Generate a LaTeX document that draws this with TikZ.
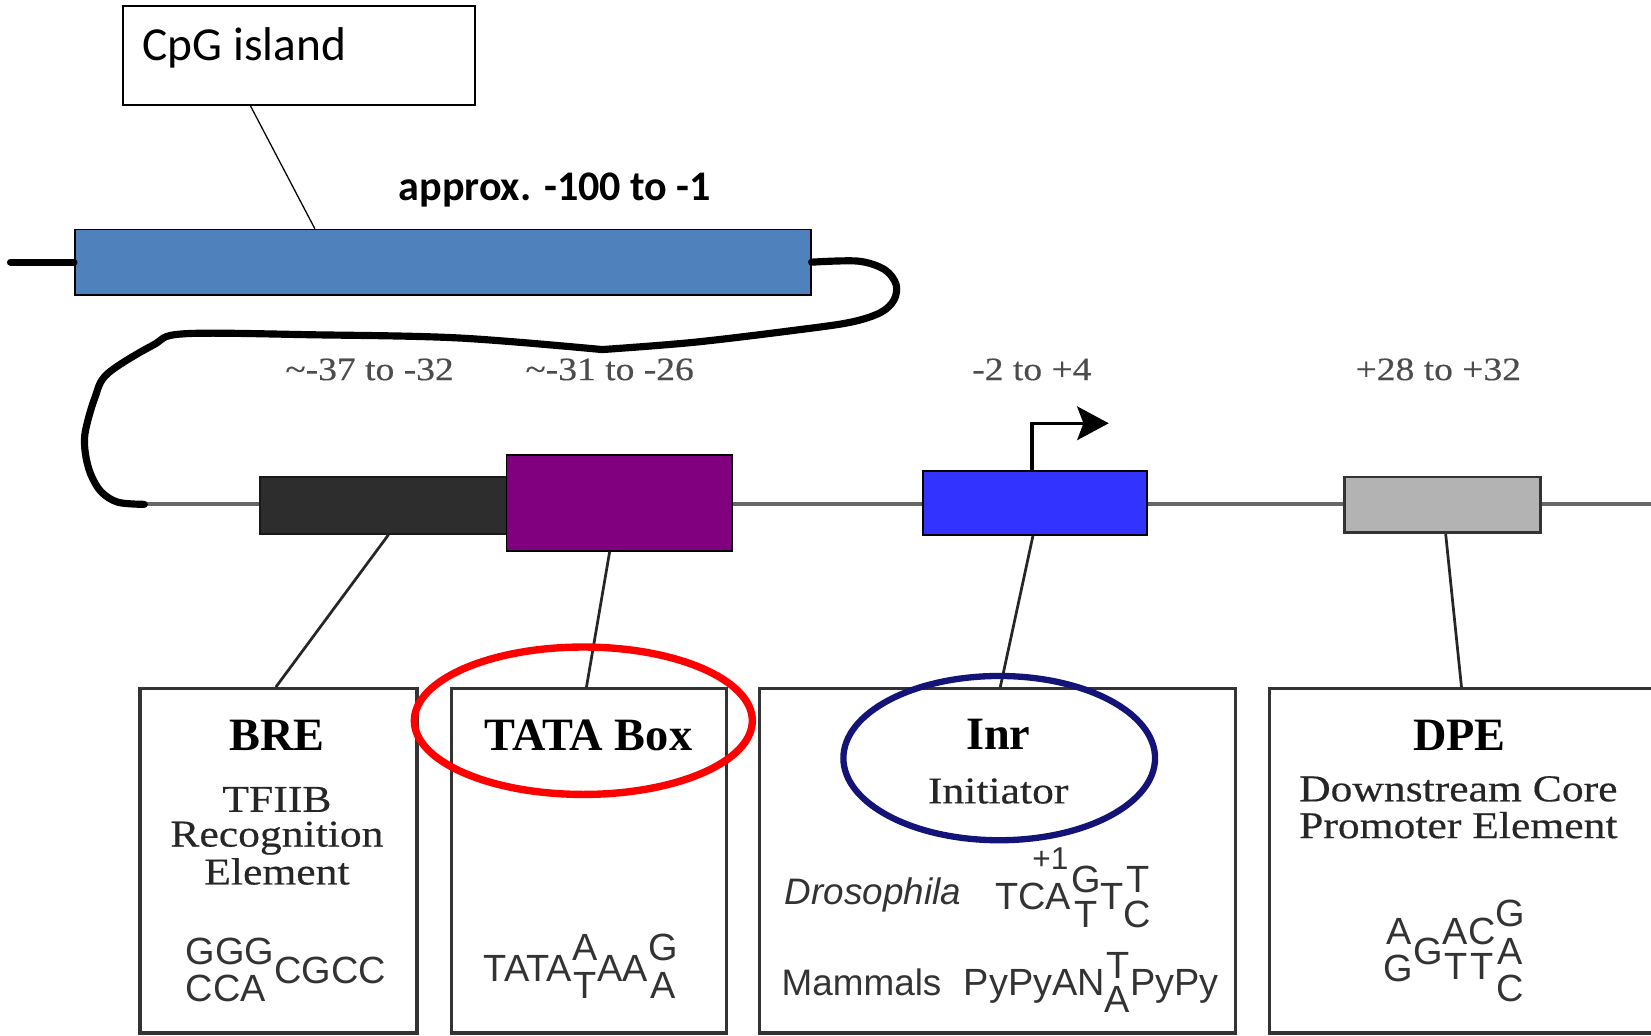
\documentclass[tikz,border=0pt]{standalone}
\usepackage{fontspec}
\setmainfont{Liberation Serif}
\newfontfamily\carlito{Carlito}
\newfontfamily\serx{Liberation Serif}[FakeStretch=1.15,FakeBold=0.4]
\newfontfamily\helv{Liberation Sans}
\usetikzlibrary{arrows.meta,shapes.geometric}
\definecolor{cpgblue}{RGB}{79,129,189}
\definecolor{tatapurple}{RGB}{128,0,128}
\definecolor{inrblue}{RGB}{51,51,255}
\definecolor{dpegray}{RGB}{179,179,179}
\definecolor{brefill}{RGB}{45,45,45}
\definecolor{navyring}{RGB}{20,20,120}
\NewDocumentCommand\twost{O{8.5pt}O{8.5pt}mm}{\ooalign{\hfil\raisebox{#1}{#3}\hfil\cr\hfil\raisebox{-#2}{#4}\hfil\cr}}
\NewDocumentCommand\threest{O{17pt}O{0pt}O{18.5pt}mmm}{\ooalign{\hfil\raisebox{#1}{#4}\hfil\cr\hfil\raisebox{#2}{#5}\hfil\cr\hfil\raisebox{-#3}{#6}\hfil\cr}}
\begin{document}
\begin{tikzpicture}[x=0.5pt,y=-0.5pt,
  dnathick/.style={line width=3.4pt, line cap=round, line join=round},
  lbox/.style={draw=black!80, line width=1.5pt, inner sep=0pt, minimum height=163.5pt},
  connline/.style={draw=black!85, line width=1.3pt},
  elhead/.style={font=\bfseries\fontsize{22}{26}\selectfont, inner sep=0pt, anchor=base},
  elsub/.style={font=\serx\fontsize{18}{21}\selectfont, text=black!85, inner sep=0pt, anchor=base},
  poslbl/.style={font=\serx\fontsize{15.5}{18}\selectfont, text=black!70, inner sep=0pt, anchor=base},
  seqtext/.style={font=\helv\fontsize{18}{21}\selectfont, text=black!80, inner sep=0pt, anchor=base west}
]
\useasboundingbox (0,0) rectangle (1568,983);
\begin{scope}
\clip (0,0) rectangle (1568,983);
% CpG island callout
\node[draw, line width=0.8pt, minimum width=167pt, minimum height=47pt, inner sep=0pt] (cpg) at (284,53) {};
\node[font=\carlito\fontsize{22.5}{27}\selectfont, anchor=base west, inner sep=0pt] (cpgt) at (135,57) {CpG island};
\node[font=\carlito\bfseries\fontsize{20}{24}\selectfont, anchor=base, inner sep=0pt] (approx) at (527,190) {approx. -100 to -1};
\node[draw, line width=0.8pt, fill=cpgblue, minimum width=349.5pt, minimum height=31pt, inner sep=0pt] (cpgbar) at (420.5,249) {};
\draw[line width=0.6pt] ([xshift=-23pt]cpg.south) -- ([xshift=-60.75pt]cpgbar.north);
% DNA
\coordinate (lend) at (10,249);
\coordinate (dnaL) at (137,479);
\coordinate (dnaR) at (1568,479);
\draw[line width=1.8pt, black!60] (dnaL) -- (dnaR);
\draw[dnathick] (lend) -- (cpgbar.west);
\draw[dnathick] plot[smooth, tension=0.55] coordinates {(cpgbar.east) (815,248) (840,256) (851,270) (849,285) (836,297) (808,306) (760,313) (660,325) (572,332)}
  plot[smooth, tension=0.55] coordinates {(572,332) (436,321) (300,318) (175,317) (145,328) (102,355) (90,378) (81,410) (81,430) (86,450) (96,467) (112,477) (dnaL)};
% element bars
\node[draw=black!90, fill=brefill, line width=0.8pt, minimum width=119pt, minimum height=27pt, inner sep=0pt] (brebar) at (366,480) {};
\node[draw, fill=tatapurple, line width=0.9pt, minimum width=107pt, minimum height=45.5pt, inner sep=0pt] (tatabar) at (588,477.5) {};
\node[draw, fill=inrblue, line width=0.9pt, minimum width=106pt, minimum height=30.5pt, inner sep=0pt] (inrbar) at (983,477.5) {};
\node[draw=black!80, fill=dpegray, line width=1.3pt, minimum width=93pt, minimum height=26.5pt, inner sep=0pt] (dpebar) at (1370,479.5) {};
\coordinate (tss) at (1053,402);
\draw[line width=1.6pt, -{Stealth[length=15pt,width=16pt,inset=3pt]}] ([xshift=-1.5pt]inrbar.north) |- (tss);
% position labels
\node[poslbl] (p1) at (351,361) {\textasciitilde-37 to -32};
\node[poslbl] (p2) at (579,361) {\textasciitilde-31 to -26};
\node[poslbl] (p3) at (980,361) {-2 to +4};
\node[poslbl] (p4) at (1366,361) {+28 to +32};
% lower boxes
\node[lbox, minimum width=131.5pt] (brebox) at (264.5,817.5) {};
\node[lbox, minimum width=130.5pt] (tatabox) at (559.5,817.5) {};
\node[lbox, minimum width=226pt] (inrbox) at (947,817.5) {};
\node[lbox, minimum width=197pt] (dpebox) at (1403,817.5) {};
\draw[connline] ([xshift=1.5pt]brebar.south) -- ([xshift=-1.25pt]brebox.north);
\draw[connline] ([xshift=-4.5pt]tatabar.south) -- ([xshift=-1.25pt]tatabox.north);
\draw[connline] ([xshift=-1pt]inrbar.south) -- ([xshift=1.5pt]inrbox.north);
\draw[connline] ([xshift=1.5pt]dpebar.south) -- ([xshift=-7.5pt]dpebox.north);
% BRE
\node[elhead] (bret) at (263,713) {BRE};
\node[elsub] (bre1) at (263,771) {TFIIB};
\node[elsub] (bre2) at (263,804) {Recognition};
\node[elsub] (bre3) at (263,840) {Element};
\node[seqtext] (breseq) at (176,934) {\ooalign{\raisebox{9pt}{GGG}\hfil\cr\raisebox{-8.5pt}{CCA}\hfil\cr}CGCC};
% TATA
\node[elhead] (tatat) at (559,713) {TATA Box};
\node[seqtext] (tataseq) at (459,932) {TATA\twost[10pt][8pt]{A}{T}AA\twost[10pt][8pt]{G}{A}};
% Inr
\node[elhead] (inrt) at (948,712) {Inr};
\node[elsub] (inr1) at (948,763) {Initiator};
\node[seqtext, font=\helv\fontsize{15}{18}\selectfont] (plus1) at (980,826) {+1};
\node[seqtext, font=\helv\itshape\fontsize{17.5}{21}\selectfont] (dros) at (745,859) {Drosophila};
\node[seqtext] (drosseq) at (945,864) {TCA\twost[8pt][8.5pt]{G}{T}T\twost[8pt][8.5pt]{T}{C}};
\node[seqtext, font=\helv\fontsize{17.5}{21}\selectfont] (mamm) at (742,945) {Mammals};
\node[seqtext] (mammseq) at (915,945) {PyPyAN\twost[8pt][8.5pt]{T}{A}PyPy};
% DPE
\node[elhead] (dpet) at (1386,713) {DPE};
\node[elsub] (dpe1) at (1385,761) {Downstream Core};
\node[elsub] (dpe2) at (1385,796) {Promoter Element};
\node[seqtext] (dpeseq) at (1314,914) {\twost[8.5pt][9pt]{A}{G}\raisebox{-1pt}{G}\twost[8.5pt][8pt]{A}{T}\twost[8.5pt][8pt]{C}{T}\threest[17pt][-1pt][18.5pt]{G}{A}{C}};
% highlight rings
\node[ellipse, draw=red, line width=3.5pt, minimum width=160.5pt, minimum height=70pt, inner sep=0pt] (redring) at (554,684.5) {};
\node[ellipse, draw=navyring, line width=3pt, minimum width=148pt, minimum height=78pt, inner sep=0pt] (navyring) at (949,720) {};
\end{scope}
\end{tikzpicture}
\end{document}
